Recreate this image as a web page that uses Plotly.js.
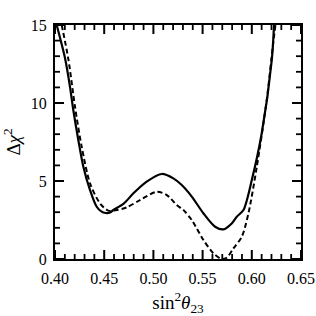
<!DOCTYPE html>
<html><head><meta charset="utf-8">
<script src="https://cdn.plot.ly/plotly-3.0.1.min.js"></script>
<style>body{margin:0}#c{width:316px;height:316px}</style>
</head><body><div id="c"></div>
<script>
const solidX = [0.4017,0.4102,0.4152,0.4186,0.4237,0.4288,0.4356,0.4424,0.4470,0.4515,0.4560,0.4593,0.4695,0.4797,0.4932,0.5085,0.5203,0.5288,0.5390,0.5508,0.5627,0.5711,0.5796,0.5847,0.5915,0.6000,0.6101,0.6203,0.6226];
const solidY = [15,12.87,11.05,9.55,7.63,5.92,4.42,3.35,3.05,2.95,2.98,3.14,3.53,4.21,4.96,5.45,5.17,4.74,4.0,2.93,2.07,1.90,2.28,2.71,3.14,5.06,8.06,12.76,15];
const dashX = [0.4068,0.4136,0.4203,0.4271,0.4356,0.4457,0.4542,0.4627,0.4729,0.4864,0.5034,0.5136,0.5237,0.5305,0.5390,0.5508,0.5610,0.5694,0.5745,0.5813,0.5898,0.5966,0.6051,0.6152,0.6213,0.6240];
const dashY = [15,12.8,9.76,7.2,4.85,3.57,3.10,3.14,3.31,3.78,4.31,4.10,3.46,3.14,2.5,1.22,0.36,0.0,0.08,0.68,1.43,2.93,5.92,10.2,13.6,15];
const xTicks = [0.40,0.45,0.50,0.55,0.60,0.65];
const xTickText = ['0.40','0.45','0.50','0.55','0.60','0.65'];
const yTicks = [0,5,10,15];
const yTickText = ['0','5','10','15'];

const W = 316, H = 316, M = {l:55, r:15, t:25, b:57};
const XR = [0.40, 0.65], YR = [0, 15];
const fam = 'Liberation Serif, Times New Roman, serif';
const font = {family:fam, size:16, color:'#000'};

// inside tick marks on all four sides, built from the tick lists
const pxX = (XR[1] - XR[0]) / (W - M.l - M.r);
const pxY = (YR[1] - YR[0]) / (H - M.t - M.b);
const maj = {x:[], y:[]}, mnr = {x:[], y:[]};
function addX(t, v, len) {
  t.x.push(v, v, null, v, v, null);
  t.y.push(YR[0], YR[0] + len * pxY, null, YR[1], YR[1] - len * pxY, null);
}
function addY(t, v, len) {
  t.y.push(v, v, null, v, v, null);
  t.x.push(XR[0], XR[0] + len * pxX, null, XR[1], XR[1] - len * pxX, null);
}
xTicks.forEach(v => addX(maj, v, 9));
yTicks.forEach(v => addY(maj, v, 9));
for (let i = 0; i < xTicks.length - 1; i++) for (let k = 1; k < 5; k++) addX(mnr, xTicks[i] + k * (xTicks[i+1] - xTicks[i]) / 5, 5);
for (let i = 0; i < yTicks.length - 1; i++) for (let k = 1; k < 5; k++) addY(mnr, yTicks[i] + k * (yTicks[i+1] - yTicks[i]) / 5, 5);

function ax(range, tv, tt, extra) {
  return Object.assign({
    range:range, tickmode:'array', tickvals:tv, ticktext:tt,
    showline:true, linewidth:2, linecolor:'#000', mirror:true,
    ticks:'', showgrid:false, zeroline:false, tickfont:font
  }, extra);
}
Plotly.newPlot('c', [
  {x:maj.x, y:maj.y, mode:'lines', line:{color:'#000', width:2}, connectgaps:false, hoverinfo:'skip', cliponaxis:false},
  {x:mnr.x, y:mnr.y, mode:'lines', line:{color:'#000', width:1.8}, connectgaps:false, hoverinfo:'skip', cliponaxis:false},
  {x:solidX, y:solidY, mode:'lines', line:{color:'#000', width:2.2, shape:'spline', smoothing:0.8}},
  {x:dashX, y:dashY, mode:'lines', line:{color:'#000', width:2, dash:'5px,3px', shape:'spline', smoothing:0.8}}
], {
  width:W, height:H, margin:M,
  paper_bgcolor:'#fff', plot_bgcolor:'#fff', showlegend:false, font:font,
  xaxis:ax(XR, xTicks, xTickText, {ticklabelstandoff:4, title:{text:'sin<sup>2</sup><i>θ</i><sub>23</sub>', font:{family:fam, size:19}, standoff:12}}),
  yaxis:ax(YR, yTicks, yTickText, {ticklabelstandoff:3, title:{text:'Δ<i>χ</i><sup>2</sup>', font:{family:fam, size:19}, standoff:8}})
}, {displayModeBar:false});
</script></body></html>
